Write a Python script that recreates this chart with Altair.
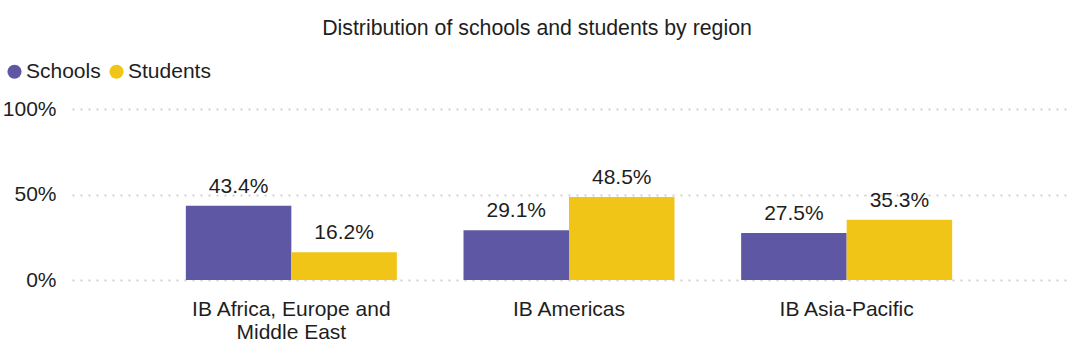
import altair as alt
import pandas as pd

regions = ["IB Africa, Europe and Middle East", "IB Americas", "IB Asia-Pacific"]
series = ["Schools", "Students"]
schools = [43.4, 29.1, 27.5]
students = [16.2, 48.5, 35.3]
y_ticks = [0, 0.5, 1.0]
colors = ["#5E58A4", "#F0C518"]

rows = []
for r, s, t in zip(regions, schools, students):
    rows.append({"region": r, "series": "Schools", "value": s / 100, "label": f"{s:.1f}%"})
    rows.append({"region": r, "series": "Students", "value": t / 100, "label": f"{t:.1f}%"})
df = pd.DataFrame(rows)

FONT = "Liberation Sans"
TXT = "#1e1e1e"

x = alt.X(
    "region:N",
    sort=regions,
    title=None,
    scale=alt.Scale(paddingInner=0.24, paddingOuter=0.41),
    axis=alt.Axis(
        labelAngle=0,
        domain=False,
        ticks=False,
        grid=False,
        labelFontSize=21,
        labelFont=FONT,
        labelColor=TXT,
        labelPadding=18,
        labelLineHeight=23,
        labelLimit=400,
        labelExpr="datum.value == 'IB Africa, Europe and Middle East' ? ['IB Africa, Europe and', 'Middle East'] : datum.value",
    ),
)
xoff = alt.XOffset("series:N", sort=series, scale=alt.Scale(paddingInner=0, paddingOuter=0))

base = alt.Chart(df)

bars = base.mark_bar().encode(
    x=x,
    xOffset=xoff,
    y=alt.Y(
        "value:Q",
        title=None,
        scale=alt.Scale(domain=[0, 1], nice=False),
        axis=alt.Axis(
            values=y_ticks,
            format=".0%",
            domain=False,
            ticks=False,
            labelFontSize=21,
            labelFont=FONT,
            labelColor=TXT,
            labelPadding=16,
            gridColor="#d0d0d0",
            gridDash=[2, 6],
            gridWidth=2,
        ),
    ),
    color=alt.Color(
        "series:N",
        sort=series,
        scale=alt.Scale(domain=series, range=colors),
        legend=alt.Legend(
            title=None,
            orient="none",
            legendX=-68,
            legendY=-48,
            direction="horizontal",
            symbolType="circle",
            symbolSize=200,
            symbolStrokeWidth=0,
            labelFontSize=21,
            labelFont=FONT,
            labelColor=TXT,
            labelOffset=1,
            columnPadding=5,
        ),
    ),
)

labels = base.mark_text(
    baseline="alphabetic", dy=-13, fontSize=21, font=FONT, color=TXT
).encode(
    x=x,
    xOffset=xoff,
    y=alt.Y("value:Q"),
    text="label:N",
)

chart = (
    alt.layer(bars, labels)
    .properties(
        width=994,
        height=171,
        view=alt.ViewBackground(stroke="transparent", strokeWidth=0),
        title=alt.TitleParams(
            "Distribution of schools and students by region",
            fontSize=21.3,
            font=FONT,
            fontWeight="normal",
            color=TXT,
            anchor="middle",
            frame="group",
            dx=-32,
            offset=22,
        ),
        autosize=alt.AutoSizeParams(type="none"),
        padding={"left": 72, "top": 109, "right": 14, "bottom": 75},
    )
    .configure_view(stroke="transparent", strokeWidth=0)
    .configure_axis(gridCap="butt")
    .configure(background="white")
)

chart.save("out.html", embed_options={"renderer": "svg", "actions": False})
